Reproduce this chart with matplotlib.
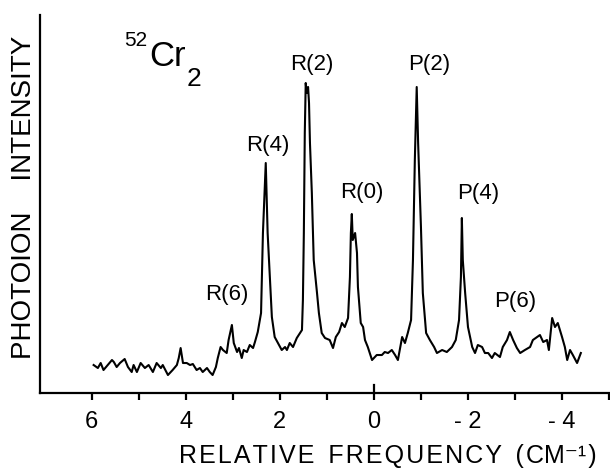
import matplotlib
matplotlib.use("Agg")
import matplotlib.pyplot as plt

plt.rcParams["font.family"] = ["Liberation Sans", "DejaVu Sans"]

# spectrum: relative frequency (cm-1) and intensity (arb.)
freq = [5.96, 5.87, 5.81, 5.75, 5.66, 5.57, 5.53, 5.47, 5.40, 5.30, 5.23, 5.15, 5.11, 5.04,
        4.96, 4.87, 4.79, 4.70, 4.62, 4.53, 4.49, 4.38, 4.28, 4.19, 4.15, 4.11, 4.06, 3.98,
        3.91, 3.85, 3.77, 3.70, 3.64, 3.55, 3.49, 3.43, 3.36, 3.32, 3.26, 3.21, 3.13, 3.09,
        3.02, 2.98, 2.91, 2.87, 2.81, 2.77, 2.70, 2.64, 2.57, 2.53, 2.47, 2.40,
        2.36, 2.30, 2.26, 2.17, 2.11, 1.96, 1.89, 1.85, 1.79, 1.72, 1.64, 1.53, 1.51, 1.49,
        1.47, 1.45, 1.43, 1.40, 1.38, 1.36, 1.32, 1.28, 1.21, 1.17, 1.11, 1.04, 0.94, 0.87,
        0.81, 0.74, 0.68, 0.62, 0.55, 0.51, 0.49, 0.47, 0.45, 0.40, 0.36, 0.34, 0.28, 0.23,
        0.19, 0.13, 0.04, -0.06, -0.17, -0.23, -0.30, -0.38, -0.45, -0.51, -0.60, -0.66,
        -0.72, -0.79, -0.83, -0.87, -0.91, -0.94, -1.00, -1.04, -1.11, -1.19, -1.28, -1.34,
        -1.45, -1.55, -1.66, -1.74, -1.81, -1.85, -1.87, -1.89, -1.94, -2.00, -2.09, -2.15,
        -2.21, -2.30, -2.36, -2.43, -2.51, -2.57, -2.68, -2.74, -2.83, -2.89, -2.96, -3.04,
        -3.11, -3.21, -3.32, -3.38, -3.47, -3.53, -3.60, -3.68, -3.72, -3.79, -3.85, -3.91,
        -4.00, -4.06, -4.11, -4.17, -4.23, -4.32, -4.40]
signal = [28, 25, 30, 23, 28, 33, 31, 26, 30, 34, 26, 21, 28, 21,
          30, 25, 28, 21, 30, 25, 28, 18, 23, 28, 35, 45, 30, 30,
          28, 29, 23, 25, 21, 25, 21, 18, 26, 35, 46, 43, 40, 53,
          68, 50, 41, 45, 35, 43, 41, 48, 45, 51, 61, 80,
          160, 230, 160, 76, 56, 43, 46, 43, 50, 46, 55, 63, 93, 160,
          260, 310, 300, 306, 290, 250, 200, 133, 100, 80, 60, 55, 53, 45,
          56, 61, 70, 66, 75, 116, 160, 179, 153, 160, 140, 106, 70, 66,
          53, 46, 33, 38, 38, 41, 40, 43, 38, 33, 56, 50,
          60, 73, 133, 233, 306, 250, 166, 100, 60, 53, 46, 40,
          43, 41, 46, 53, 73, 116, 175, 133, 100, 66, 46, 40,
          48, 46, 40, 40, 35, 40, 36, 46, 53, 61, 53, 45,
          40, 43, 46, 53, 56, 58, 51, 53, 43, 75, 66, 70,
          56, 46, 33, 43, 38, 30, 40]

peak_names = ["R(6)", "R(4)", "R(2)", "R(0)", "P(2)", "P(4)", "P(6)"]
peak_label_x = [3.13, 2.26, 1.32, 0.26, -1.17, -2.21, -3.00]
peak_label_y = [99, 248, 328, 201, 328, 200, 92]

major_ticks = [6, 4, 2, 0, -2, -4]
major_labels = ["6", "4", "2", "0", "- 2", "- 4"]
minor_ticks = [5, 3, 1, -1, -3, -5]

fig = plt.figure(figsize=(6.1, 4.7), dpi=100)
ax = fig.add_axes([0.0656, 0.1638, 0.9344, 0.8043])

ax.plot(freq, signal, color="black", lw=1.5)
ax.set_xlim(7.1, -5.02)
ax.set_ylim(0, 378)

for sp in ["top", "right"]:
    ax.spines[sp].set_visible(False)
for sp in ["left", "bottom"]:
    ax.spines[sp].set_linewidth(1.6)
ax.set_yticks([])

ax.set_xticks(major_ticks)
ax.set_xticklabels(major_labels)
ax.set_xticks(minor_ticks, minor=True)
ax.tick_params(axis="x", which="both", direction="out", length=5, width=1.6,
               labelsize=17, pad=8)
# the zero tick crosses the axis
ax.plot([0, 0], [0, 0.02], color="black", lw=1.6, transform=ax.get_xaxis_transform(),
        clip_on=False)

for name, lx, ly in zip(peak_names, peak_label_x, peak_label_y):
    ax.text(lx, ly, name, ha="center", va="center", fontsize=16)

# molecule label
fig.text(136 / 610, 1 - 40 / 470, "52", ha="center", va="center", fontsize=15)
fig.text(168 / 610, 1 - 57 / 470, "Cr", ha="center", va="center", fontsize=25)
fig.text(194 / 610, 1 - 79 / 470, "2", ha="center", va="center", fontsize=19)

hs = "\u200a"
xlabel = hs.join("RELATIVE") + "  " + hs.join("FREQUENCY") + "  (" + hs + "CM\u207b\u00b9" + hs + ")"
fig.text(388 / 610, 1 - 456 / 470, xlabel, ha="center", va="center", fontsize=18)
fig.text(24 / 610, 1 - 197 / 470, "PHOTOION    INTENSITY", ha="center", va="center",
         rotation=90, fontsize=20)

fig.savefig("out.png", dpi=100)
